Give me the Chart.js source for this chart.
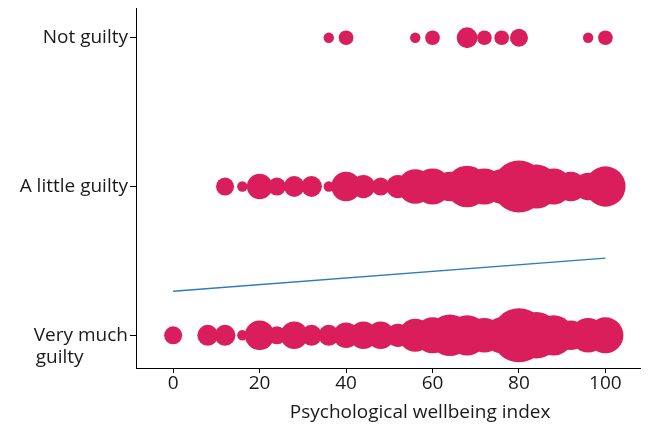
<!DOCTYPE html>
<html>
<head>
<meta charset="utf-8">
<script src="https://cdn.jsdelivr.net/npm/chart.js@4"></script>
<style>
  html, body { margin: 0; padding: 0; background: #ffffff; }
  #wrap { width: 651px; height: 427px; }
</style>
</head>
<body>
<div id="wrap"><canvas id="guiltChart" width="651" height="427"></canvas></div>
<script>
// Wellbeing index values (x) where bubbles sit
const xValues = [0, 4, 8, 12, 16, 20, 24, 28, 32, 36, 40, 44, 48, 52, 56, 60, 64, 68, 72, 76, 80, 84, 88, 92, 96, 100];

// Number of respondents at each x, per guilt level (0 = no bubble)
const notGuiltyCounts    = [0, 0, 0, 0, 0, 0, 0, 0, 0, 1, 2, 0, 0, 0, 1, 2, 0, 4, 2, 2, 3, 0, 0, 0, 1, 2];
const littleGuiltyCounts = [0, 0, 0, 3, 1, 6, 3, 4, 4, 1, 8, 5, 3, 5, 11, 12, 8, 16, 12, 11, 25, 18, 12, 8, 7, 15];
const veryGuiltyCounts   = [3, 0, 4, 4, 1, 8, 3, 7, 4, 4, 6, 7, 7, 5, 10, 12, 16, 15, 11, 12, 27, 20, 15, 8, 11, 12];

// Guilt levels on the y axis
const guiltLevels = [1, 2, 3];
const guiltLabels = [["Very much", "guilty"], "A little guilty", "Not guilty"];

// Fitted line end points
const fitX = [0, 100];
const fitY = [1.296, 1.519];

const xTicks = [0, 20, 40, 60, 80, 100];

const bubbleColor = "#d91e5b";
const fontFamily = "'Open Sans', 'Noto Sans', sans-serif";
const fontSize = 19;

// pad the second line of a two-line label so both lines start at the same x
const measureCtx = document.createElement("canvas").getContext("2d");
measureCtx.font = fontSize + "px " + fontFamily;
function leftAlignLines(lines) {
  const w0 = measureCtx.measureText(lines[0]).width;
  let second = lines[1];
  while (measureCtx.measureText(second + " ").width <= w0 + 2) second += " ";
  return ["", lines[0], second];
}

function toBubbles(counts, level) {
  const pts = [];
  counts.forEach((n, i) => {
    if (n > 0) pts.push({ x: xValues[i], y: level, r: 5.2 * Math.sqrt(n) });
  });
  return pts;
}

const ctx = document.getElementById("guiltChart").getContext("2d");
window.guiltChart = new Chart(ctx, {
  type: "bubble",
  data: {
    datasets: [
      {
        label: "Very much guilty",
        data: toBubbles(veryGuiltyCounts, guiltLevels[0]),
        backgroundColor: bubbleColor,
        borderWidth: 0,
      },
      {
        label: "A little guilty",
        data: toBubbles(littleGuiltyCounts, guiltLevels[1]),
        backgroundColor: bubbleColor,
        borderWidth: 0,
      },
      {
        label: "Not guilty",
        data: toBubbles(notGuiltyCounts, guiltLevels[2]),
        backgroundColor: bubbleColor,
        borderWidth: 0,
      },
      {
        type: "line",
        label: "Fit",
        data: fitX.map((x, i) => ({ x: x, y: fitY[i] })),
        borderColor: "#2e7bbd",
        borderWidth: 1.3,
        pointRadius: 0,
        fill: false,
      },
    ],
  },
  options: {
    responsive: false,
    animation: false,
    layout: {
      autoPadding: false,
      padding: { top: 8, right: 11, left: 0, bottom: 0 },
    },
    scales: {
      x: {
        type: "linear",
        min: -8.6,
        max: 108,
        afterBuildTicks: (scale) => {
          scale.ticks = xTicks.map((v) => ({ value: v }));
        },
        afterFit: (scale) => {
          scale.height = 59;
          scale.paddingLeft = 0;
          scale.paddingRight = 0;
        },
        grid: {
          drawOnChartArea: false,
          drawTicks: true,
          tickLength: 5,
          color: "#000000",
        },
        border: { display: true, color: "#000000", width: 1 },
        ticks: {
          color: "#1a1a1a",
          padding: -1,
          font: { family: fontFamily, size: fontSize },
        },
        title: {
          display: true,
          text: "             Psychological wellbeing index",
          color: "#1a1a1a",
          padding: { top: 0, bottom: 3 },
          font: { family: fontFamily, size: fontSize },
        },
      },
      y: {
        type: "linear",
        min: 0.78,
        max: 3.2,
        afterBuildTicks: (scale) => {
          scale.ticks = guiltLevels.map((v) => ({ value: v }));
        },
        afterFit: (scale) => {
          scale.width = 136;
          scale.paddingTop = 0;
          scale.paddingBottom = 0;
        },
        grid: {
          drawOnChartArea: false,
          drawTicks: true,
          tickLength: 6,
          color: "#000000",
        },
        border: { display: true, color: "#000000", width: 1 },
        ticks: {
          color: "#1a1a1a",
          padding: 2,
          font: { family: fontFamily, size: fontSize },
          callback: (value) => {
            const label = guiltLabels[guiltLevels.indexOf(value)];
            return Array.isArray(label) ? leftAlignLines(label) : label;
          },
        },
      },
    },
    plugins: {
      legend: { display: false },
      tooltip: { enabled: false },
    },
  },
});
</script>
</body>
</html>
